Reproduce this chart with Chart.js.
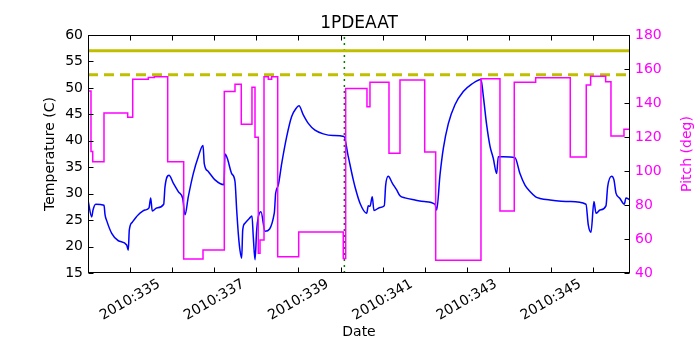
<!DOCTYPE html>
<html><head><meta charset="utf-8">
<script src="https://cdn.jsdelivr.net/npm/chart.js@4"></script>
<style>html,body{margin:0;padding:0;background:#fff}#wrap{width:700px;height:350px}</style>
</head><body><div id="wrap"><canvas id="c"></canvas></div>
<script>
const FONT = "'DejaVu Sans', sans-serif";
const titleText = "1PDEAAT";
const xRange = [334.0, 346.875];
const tickDays = [335, 336, 337, 338, 339, 340, 341, 342, 343, 344, 345, 346];
const labelDays = [335, 337, 339, 341, 343, 345];
const tempTicks = [15, 20, 25, 30, 35, 40, 45, 50, 55, 60];
const pitchTicks = [40, 60, 80, 100, 120, 140, 160, 180];

const tempDays = [334.007,334.088,334.119,334.183,334.380,334.405,334.444,334.563,334.720,334.919,334.957,
334.981,335.052,335.195,335.354,335.449,335.489,335.527,335.632,335.798,335.829,
335.924,336.026,336.145,336.249,336.304,336.382,336.501,336.620,336.732,336.762,
336.857,337.017,337.230,337.254,337.309,337.413,337.492,337.532,337.570,337.610,
337.651,337.675,337.729,337.831,337.895,337.926,337.967,338.007,338.045,338.109,
338.204,338.425,338.458,338.520,338.601,338.720,338.838,338.941,339.012,339.114,
339.233,339.392,339.589,339.827,340.081,340.183,340.302,340.342,340.461,340.620,
340.658,340.698,340.753,340.793,340.936,341.038,341.071,341.133,341.228,341.333,
341.411,341.530,341.767,341.988,342.242,342.283,342.361,342.440,342.558,342.717,
342.915,343.114,343.335,343.390,343.470,343.549,343.627,343.708,343.746,343.865,
344.143,344.261,344.380,344.499,344.634,344.736,344.974,345.449,345.829,345.884,
345.948,346.019,346.067,346.162,346.304,346.344,346.439,346.494,346.542,346.637,
346.739,346.779,346.874];
const tempValues = [28.5,25.6,26.9,28.0,27.8,26.0,24.9,22.5,21.1,20.3,19.3,
23.1,24.6,26.0,26.9,27.3,29.2,26.7,27.3,28.0,31.3,
33.5,32.0,30.4,29.1,26.0,29.4,33.8,37.0,39.1,35.7,
34.2,32.6,31.7,37.5,36.7,33.8,32.3,26.9,22.5,19.3,
17.8,23.1,24.4,25.3,25.8,21.9,17.5,23.1,25.6,26.6,
22.9,26.3,30.1,31.6,35.7,40.8,44.6,46.1,46.6,44.9,
43.3,42.0,41.3,41.0,40.8,37.0,32.6,31.3,28.2,26.3,
27.7,27.6,29.4,26.8,27.4,27.7,31.6,33.3,32.0,30.7,
29.6,29.2,28.8,28.5,28.0,26.9,33.5,38.5,43.2,46.8,
49.3,50.7,51.6,48.5,43.0,39.0,36.7,33.8,37.0,37.0,
36.8,33.8,31.6,30.4,29.4,29.1,28.8,28.5,28.0,24.1,
22.7,28.5,26.3,26.9,27.7,31.3,33.3,32.6,30.1,29.1,
28.0,29.2,28.8];

const pitchDays = [334.000,334.071,334.112,334.380,334.943,335.062,335.432,335.575,335.893,336.273,
336.732,337.238,337.492,337.641,337.895,337.967,338.045,338.086,338.181,338.283,
338.363,338.506,339.005,340.064,340.121,340.627,340.698,341.150,341.411,341.998,
342.259,343.335,343.786,344.126,344.634,345.456,345.836,345.940,346.297,346.423,
346.732,346.874];
const pitchValues = [147.1,111.4,105.5,134.1,131.6,153.9,155.0,155.5,105.5,48.2,
53.5,146.7,151.0,127.5,149.2,119.8,51.6,59.4,155.5,153.9,
155.5,49.6,64.1,48.6,148.6,137.8,152.2,110.4,153.5,111.2,
47.5,154.3,76.5,152.2,154.9,108.2,150.6,155.7,152.5,120.6,
124.5,124.5];

const planningLimit = [57, 57];
const cautionLimit = [52.5, 52.5];
const eventDay = 340.09;

const pts = (xs, ys) => xs.map((x, i) => ({x: x, y: ys[i]}));

const overlay = {
  id: 'overlay',
  afterDatasetsDraw(chart) {
    const {ctx, chartArea: a, scales} = chart;
    ctx.save();
    ctx.strokeStyle = '#000';
    ctx.lineWidth = 1;
    const L = Math.round(a.left) + 0.5, R = Math.round(a.right) - 0.5;
    const T = Math.round(a.top) + 0.5, B = Math.round(a.bottom) - 0.5;
    ctx.beginPath();
    tickDays.forEach(d => {
      const x = Math.round(scales.x.getPixelForValue(d)) + 0.5;
      ctx.moveTo(x, T); ctx.lineTo(x, T + 5);
      ctx.moveTo(x, B); ctx.lineTo(x, B - 5);
    });
    tempTicks.forEach(v => {
      const y = Math.round(scales.y.getPixelForValue(v)) + 0.5;
      ctx.moveTo(L, y); ctx.lineTo(L + 5, y);
    });
    pitchTicks.forEach(v => {
      const y = Math.round(scales.y1.getPixelForValue(v)) + 0.5;
      ctx.moveTo(R, y); ctx.lineTo(R - 5, y);
    });
    ctx.stroke();
    ctx.strokeRect(L, T, R - L, B - T);
    ctx.restore();
  },
  afterDraw(chart) {
    const {ctx, chartArea: a, scales} = chart;
    const cx = (a.left + a.right) / 2, cy = (a.top + a.bottom) / 2;
    ctx.save();
    ctx.fillStyle = '#000';
    ctx.font = '17px ' + FONT;
    ctx.textAlign = 'center';
    ctx.textBaseline = 'alphabetic';
    ctx.fillText(titleText, cx, 28);
    ctx.font = '14px ' + FONT;
    ctx.textBaseline = 'middle';
    labelDays.forEach(d => {
      const x = scales.x.getPixelForValue(d);
      ctx.save();
      ctx.translate(x, 300);
      ctx.rotate(-Math.PI / 6);
      ctx.fillText('2010:' + d, 0, 0);
      ctx.restore();
    });
    ctx.fillText('Date', cx, 332);
    ctx.save();
    ctx.translate(50, cy);
    ctx.rotate(-Math.PI / 2);
    ctx.fillText('Temperature (C)', 0, 0);
    ctx.restore();
    ctx.save();
    ctx.fillStyle = '#ff00ff';
    ctx.translate(687, cy);
    ctx.rotate(-Math.PI / 2);
    ctx.fillText('Pitch (deg)', 0, 0);
    ctx.restore();
    ctx.restore();
  }
};

new Chart(document.getElementById('c'), {
  type: 'line',
  data: {datasets: [
    {label: 'Pitch', data: pts(pitchDays, pitchValues), yAxisID: 'y1', borderColor: '#ff00ff', borderWidth: 1.5, stepped: true, pointRadius: 0, fill: false},
    {label: 'Temperature', data: pts(tempDays, tempValues), yAxisID: 'y', borderColor: '#0000ff', borderWidth: 1.5, cubicInterpolationMode: 'monotone', pointRadius: 0, fill: false},
    {label: 'Planning limit', data: pts(xRange, planningLimit), yAxisID: 'y', borderColor: '#bfbf00', borderWidth: 3, pointRadius: 0},
    {label: 'Caution limit', data: pts(xRange, cautionLimit), yAxisID: 'y', borderColor: '#bfbf00', borderWidth: 3, borderDash: [10, 6], pointRadius: 0},
    {label: 'Event', data: pts([eventDay, eventDay], [15, 60]), yAxisID: 'y', borderColor: '#008000', borderWidth: 1.5, borderDash: [2, 4], pointRadius: 0}
  ]},
  options: {
    responsive: true, maintainAspectRatio: false, animation: false,
    layout: {padding: {top: 35, left: 0, right: 0, bottom: 0}},
    plugins: {legend: {display: false}, title: {display: false}, tooltip: {enabled: false}},
    scales: {
      x: {type: 'linear', min: xRange[0], max: xRange[1], grid: {display: false, drawTicks: false}, border: {display: false},
          ticks: {display: false, stepSize: 1}, afterFit(s) { s.height = 77; }},
      y: {position: 'left', min: 15, max: 60, grid: {display: false, drawTicks: false}, border: {display: false},
          ticks: {stepSize: 5, color: '#000', font: {family: FONT, size: 14}, padding: 5}, afterFit(s) { s.width = 88; }},
      y1: {position: 'right', min: 40, max: 180, grid: {display: false, drawTicks: false}, border: {display: false},
          ticks: {stepSize: 20, color: '#ff00ff', font: {family: FONT, size: 14}, padding: 5}, afterFit(s) { s.width = 70; }}
    }
  },
  plugins: [overlay]
});
</script></body></html>
